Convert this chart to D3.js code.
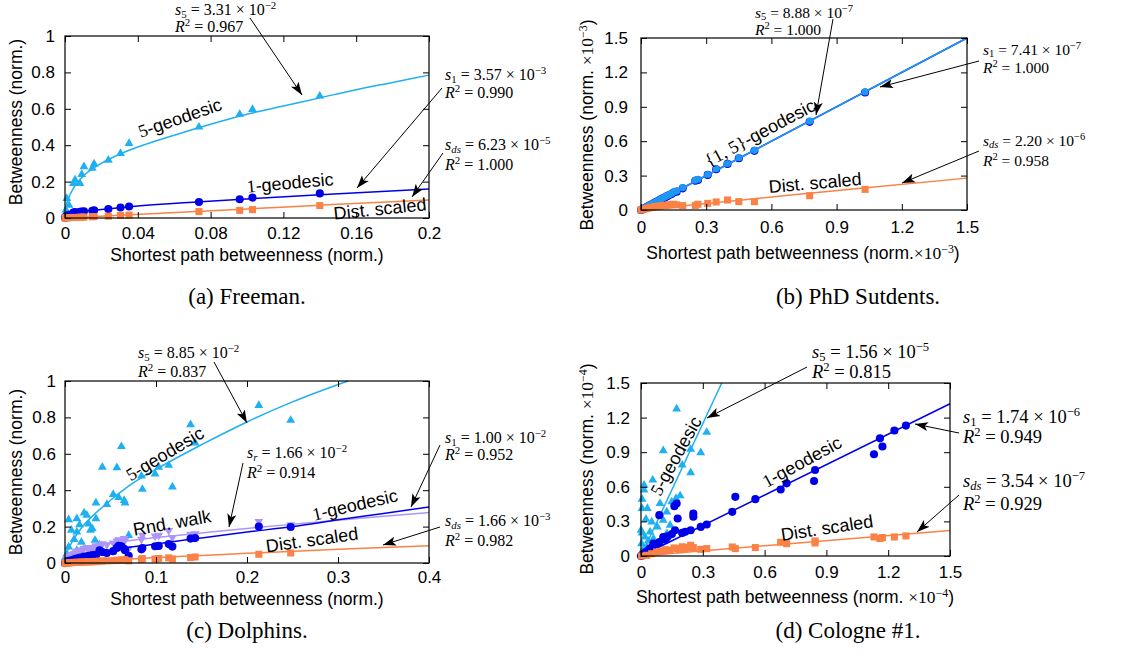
<!DOCTYPE html>
<html><head><meta charset="utf-8">
<script src="https://cdn.jsdelivr.net/npm/d3@7"></script>
<style>body{margin:0;background:#fff}svg{display:block}</style>
</head><body>
<svg id="c" width="1132" height="663"></svg>
<script>
// ================= DATA =================
// (a) Freeman
const freemanX  = [0, 0.0005, 0.001, 0.0022, 0.0046, 0.0055, 0.0082, 0.0092, 0.0104, 0.0150, 0.0160, 0.0238, 0.0305, 0.0352, 0.0736, 0.0960, 0.1030, 0.1400];
const freeman5  = [0.02, 0.044, 0.108, 0.07, 0.19, 0.209, 0.19, 0.24, 0.282, 0.273, 0.297, 0.318, 0.355, 0.41, 0.50, 0.57, 0.597, 0.67];
const freeman1  = [0.002, 0.006, 0.012, 0.018, 0.030, 0.032, 0.034, 0.035, 0.037, 0.040, 0.042, 0.049, 0.058, 0.063, 0.088, 0.103, 0.112, 0.135];
const freemanDS = [0, 0.0005, 0.001, 0.002, 0.003, 0.003, 0.004, 0.005, 0.005, 0.007, 0.008, 0.010, 0.014, 0.016, 0.035, 0.042, 0.046, 0.068];
const freemanFit5X  = [0, 0.0005, 0.002, 0.005, 0.01, 0.02, 0.03, 0.04, 0.06, 0.08, 0.10, 0.12, 0.14, 0.16, 0.18, 0.20];
const freemanFit5Y  = [0, 0.06, 0.11, 0.17, 0.23, 0.30, 0.35, 0.39, 0.455, 0.515, 0.57, 0.615, 0.66, 0.705, 0.745, 0.785];
const freemanFit1X  = [0, 0.001, 0.005, 0.01, 0.02, 0.04, 0.07, 0.10, 0.14, 0.20];
const freemanFit1Y  = [0, 0.012, 0.027, 0.036, 0.047, 0.066, 0.087, 0.105, 0.128, 0.159];
const freemanFitDSX = [0, 0.05, 0.10, 0.15, 0.20];
const freemanFitDSY = [0, 0.025, 0.05, 0.075, 0.099];
const freemanXTicks = [0, 0.04, 0.08, 0.12, 0.16, 0.2];
const freemanXLabels = ["0", "0.04", "0.08", "0.12", "0.16", "0.2"];
const unitYTicks = [0, 0.2, 0.4, 0.6, 0.8, 1];
const unitYLabels = ["0", "0.2", "0.4", "0.6", "0.8", "1"];

// (b) PhD students (units of 1e-3)
const phdX  = [0.000, 0.005, 0.010, 0.020, 0.030, 0.040, 0.050, 0.060, 0.070, 0.080, 0.090, 0.100, 0.110, 0.120, 0.130, 0.140, 0.150, 0.164, 0.192, 0.250, 0.262, 0.307, 0.346, 0.398, 0.450, 0.522, 0.776, 1.031];
const phd1  = [0.000, 0.005, 0.010, 0.019, 0.030, 0.041, 0.050, 0.060, 0.071, 0.080, 0.090, 0.101, 0.110, 0.121, 0.130, 0.140, 0.152, 0.160, 0.189, 0.255, 0.262, 0.306, 0.355, 0.402, 0.451, 0.516, 0.769, 1.025];
const phd5  = [0.002, 0.007, 0.012, 0.022, 0.033, 0.044, 0.053, 0.063, 0.074, 0.083, 0.094, 0.104, 0.114, 0.125, 0.134, 0.144, 0.156, 0.165, 0.195, 0.260, 0.268, 0.310, 0.360, 0.406, 0.456, 0.520, 0.775, 1.030];
const phdDS = [0.000, 0.003, 0.006, 0.010, 0.015, 0.020, 0.024, 0.028, 0.030, 0.033, 0.035, 0.038, 0.040, 0.042, 0.044, 0.046, 0.050, 0.045, 0.038, 0.040, 0.050, 0.058, 0.070, 0.087, 0.073, 0.073, 0.125, 0.180];
const phdFit1X = [0, 1.5], phdFit1Y = [0, 1.5];
const phdFit5X = [0, 1.5], phdFit5Y = [0, 1.5];
const phdFitDSX = [0, 0.5, 1.0, 1.5], phdFitDSY = [0, 0.094, 0.188, 0.278];
const tick15 = [0, 0.3, 0.6, 0.9, 1.2, 1.5];
const tick15Labels = ["0", "0.3", "0.6", "0.9", "1.2", "1.5"];

// (c) Dolphins
const dolphinsX  = [0.248,0.213,0.143,0.138,0.118,0.114,0.103,0.099,0.085,0.084,0.070,0.066,0.065,0.062,0.059,0.057,0.053,0.046,0.041,0.038,0.034,0.034,0.033,0.030,0.028,0.026,0.024,0.021,0.018,0.016,0.013,0.013,0.013,0.010,0.007,0.004,0.004,0.002,0.001,0.0005,0.0];
const dolphins5  = [0.784,0.866,0.660,0.760,0.418,0.537,0.527,0.490,0.405,0.478,0.152,0.330,0.344,0.640,0.360,0.524,0.377,0.322,0.527,0.100,0.330,0.244,0.125,0.189,0.180,0.215,0.262,0.275,0.115,0.210,0.244,0.170,0.070,0.130,0.180,0.238,0.088,0.050,0.015,0.030,0.0];
const dolphins1  = [0.198,0.200,0.137,0.134,0.090,0.104,0.094,0.092,0.082,0.075,0.040,0.070,0.078,0.092,0.095,0.083,0.065,0.055,0.060,0.070,0.045,0.042,0.035,0.044,0.038,0.040,0.035,0.036,0.030,0.028,0.025,0.022,0.020,0.020,0.015,0.012,0.010,0.005,0.003,0.002,0.0];
const dolphinsRW = [0.210,0.228,0.160,0.158,0.140,0.178,0.152,0.148,0.152,0.130,0.080,0.125,0.134,0.120,0.128,0.120,0.110,0.100,0.106,0.095,0.095,0.090,0.075,0.085,0.080,0.080,0.085,0.080,0.070,0.070,0.065,0.060,0.055,0.050,0.045,0.035,0.030,0.020,0.010,0.008,0.0];
const dolphinsDS = [0.055,0.048,0.033,0.030,0.022,0.028,0.025,0.022,0.024,0.020,0.012,0.016,0.018,0.017,0.015,0.014,0.013,0.012,0.011,0.010,0.009,0.008,0.008,0.007,0.007,0.007,0.006,0.006,0.005,0.004,0.004,0.003,0.003,0.003,0.002,0.001,0.001,0.0005,0.0,0.0,0.0];
const dolphinsFit5X  = [0, 0.002, 0.005, 0.01, 0.02, 0.035, 0.05, 0.075, 0.10, 0.15, 0.20, 0.25, 0.311];
const dolphinsFit5Y  = [0, 0.055, 0.09, 0.135, 0.205, 0.28, 0.345, 0.44, 0.515, 0.65, 0.775, 0.885, 1.0];
const dolphinsFit1X  = [0, 0.005, 0.02, 0.05, 0.10, 0.15, 0.20, 0.25, 0.30, 0.35, 0.40];
const dolphinsFit1Y  = [0, 0.02, 0.042, 0.07, 0.105, 0.138, 0.17, 0.2, 0.237, 0.272, 0.308];
const dolphinsFitRWX = [0, 0.002, 0.01, 0.03, 0.05, 0.10, 0.15, 0.20, 0.25, 0.30, 0.35, 0.40];
const dolphinsFitRWY = [0, 0.04, 0.07, 0.095, 0.11, 0.14, 0.165, 0.19, 0.213, 0.235, 0.257, 0.277];
const dolphinsFitDSX = [0, 0.1, 0.2, 0.3, 0.4];
const dolphinsFitDSY = [0, 0.03, 0.053, 0.075, 0.095];
const dolphinsXTicks = [0, 0.1, 0.2, 0.3, 0.4];
const dolphinsXLabels = ["0", "0.1", "0.2", "0.3", "0.4"];

// (d) Cologne #1 (units of 1e-4)
const cologne1X = [1.286,1.230,1.160,1.172,1.131,0.845,0.840,0.707,0.678,0.555,0.458,0.443,0.319,0.290,0.254,0.254,0.241,0.215,0.200,0.178,0.173,0.162,0.089,0.165,0.150,0.130,0.108,0.120,0.090,0.060,0.070,0.050,0.040,0.030,0.020,0.010,0.005,0.0];
const cologne1Y = [1.131,1.088,1.020,0.949,0.882,0.746,0.650,0.630,0.577,0.493,0.513,0.383,0.273,0.252,0.368,0.340,0.223,0.210,0.200,0.325,0.455,0.432,0.354,0.223,0.190,0.170,0.165,0.140,0.120,0.107,0.090,0.070,0.060,0.040,0.030,0.015,0.005,0.0];
const cologne5X = [0.173,0.319,0.290,0.241,0.108,0.200,0.241,0.015,0.057,0.015,0.190,0.170,0.149,0.005,0.005,0.031,0.092,0.125,0.024,0.052,0.108,0.141,0.079,0.044,0.000,0.019,0.060,0.125,0.095,0.003,0.028,0.010,0.070,0.035,0.005,0.0];
const cologne5Y = [1.276,1.073,0.896,0.925,0.914,0.789,0.722,0.615,0.659,0.572,0.522,0.499,0.470,0.493,0.412,0.412,0.455,0.383,0.319,0.296,0.310,0.267,0.252,0.209,0.223,0.165,0.151,0.194,0.136,0.107,0.078,0.050,0.100,0.130,0.200,0.020];
const cologneDSX = [1.286,1.230,1.172,1.160,1.131,0.845,0.845,0.707,0.678,0.555,0.458,0.443,0.319,0.290,0.254,0.241,0.214,0.190,0.178,0.141,0.108,0.076,0.052,0.028,0.003,0.160,0.120,0.090,0.200,0.230];
const cologneDSY = [0.174,0.165,0.160,0.151,0.165,0.130,0.113,0.107,0.119,0.073,0.064,0.078,0.064,0.058,0.073,0.093,0.064,0.055,0.064,0.049,0.044,0.035,0.020,0.006,0.0,0.070,0.055,0.040,0.080,0.075];
const cologneFit5X = [0, 0.392], cologneFit5Y = [0, 1.5];
const cologneFit1X = [0, 1.5], cologneFit1Y = [0, 1.32];
const cologneFitDSX = [0, 1.5], cologneFitDSY = [0, 0.222];

// ================= STYLE =================
const C5 = "#1eb0f0", C1 = "#0000e8", CDS = "#fa8246", CRW = "#ae96f6", C15 = "#1e98f5";
const SANS = "'Liberation Sans', Arial, Helvetica, sans-serif";
const SERIF = "'Liberation Serif', 'Times New Roman', serif";

const svg = d3.select("#c");
const defs = svg.append("defs");
defs.append("marker").attr("id", "ah").attr("viewBox", "-13 -6 14 12")
  .attr("refX", 0).attr("refY", 0).attr("markerWidth", 14).attr("markerHeight", 12)
  .attr("markerUnits", "userSpaceOnUse").attr("orient", "auto")
  .append("path").attr("d", "M0,0 L-13,-4.5 L-10,0 L-13,4.5 Z").attr("fill", "#000");

function richText(parent, x, y, size, parts, opts = {}) {
  const t = parent.append("text").attr("x", x).attr("y", y).attr("font-size", size)
    .attr("font-family", opts.family || SERIF).attr("fill", "#000");
  if (opts.anchor) t.attr("text-anchor", opts.anchor);
  if (opts.transform) t.attr("transform", opts.transform);
  let shift = 0;
  parts.forEach(([s, st, fam]) => {
    let target = 0, fs = size;
    if (st.includes("sub")) { target = 0.16 * size; fs = 0.68 * size; }
    if (st.includes("sup")) { target = -0.36 * size; fs = 0.68 * size; }
    const sp = t.append("tspan").text(s).attr("font-size", fs);
    if (target !== shift) sp.attr("dy", target - shift);
    if (st.includes("i")) sp.attr("font-style", "italic");
    if (fam) sp.attr("font-family", fam);
    shift = target;
  });
  return t;
}

function arrow(g, x1, y1, x2, y2) {
  g.append("line").attr("x1", x1).attr("y1", y1).attr("x2", x2).attr("y2", y2)
    .attr("stroke", "#000").attr("stroke-width", 1).attr("marker-end", "url(#ah)");
}

function annot(g, a) {
  richText(g, a.x, a.y1, a.size, a.l1);
  richText(g, a.x, a.y2, a.size, a.l2);
  arrow(g, a.ax1, a.ay1, a.ax2, a.ay2);
}

const symGen = {
  tri: d3.symbol().type(d3.symbolTriangle).size(34),
  tdown: d3.symbol().type(d3.symbolTriangle).size(34),
  circle: d3.symbol().type(d3.symbolCircle).size(52),
  circleS: d3.symbol().type(d3.symbolCircle).size(40),
  square: d3.symbol().type(d3.symbolSquare).size(50)
};

function drawPanel(p) {
  const x = d3.scaleLinear().domain([0, p.xMax]).range([p.L, p.R]);
  const y = d3.scaleLinear().domain([0, p.yMax]).range([p.B, p.T]);
  const g = svg.append("g");

  // series
  p.series.forEach(s => {
    g.append("g").selectAll("path").data(d3.zip(s.xs, s.ys)).join("path")
      .attr("transform", d => `translate(${x(d[0])},${y(d[1])})` + (s.shape === "tdown" ? " rotate(180)" : ""))
      .attr("d", symGen[s.shape]).attr("fill", s.color);
    g.append("path").datum(d3.zip(s.fx, s.fy))
      .attr("d", d3.line().x(d => x(d[0])).y(d => y(d[1])).curve(d3.curveMonotoneX))
      .attr("fill", "none").attr("stroke", s.color).attr("stroke-width", 1.5);
  });

  // axes with inward ticks on all sides
  const fx = (d, i) => p.xLabels[i], fy = (d, i) => p.yLabels[i];
  const axes = [
    [d3.axisBottom(x).tickValues(p.xTicks).tickFormat(fx).tickPadding(p.xPad), `translate(0,${p.B})`],
    [d3.axisTop(x).tickValues(p.xTicks).tickFormat(() => ""), `translate(0,${p.T})`],
    [d3.axisLeft(y).tickValues(p.yTicks).tickFormat(fy).tickPadding(p.yPad), `translate(${p.L},0)`],
    [d3.axisRight(y).tickValues(p.yTicks).tickFormat(() => ""), `translate(${p.R},0)`]
  ];
  axes.forEach(([a, tr]) => {
    const ag = g.append("g").attr("transform", tr).call(a.tickSizeInner(-6).tickSizeOuter(0));
    ag.select(".domain").remove();
    ag.selectAll("line").attr("stroke", "#000").attr("stroke-width", 1);
    ag.selectAll("text").attr("font-family", SANS).attr("font-size", 17).attr("fill", "#000");
  });
  g.append("rect").attr("x", p.L).attr("y", p.T).attr("width", p.R - p.L).attr("height", p.B - p.T)
    .attr("fill", "none").attr("stroke", "#000").attr("stroke-width", 1.2);

  // axis titles
  richText(g, 0, 0, 17.5, p.yTitle, { family: SANS, anchor: "middle",
    transform: `translate(${p.yTitlePos[0]},${p.yTitlePos[1]}) rotate(-90)` });
  richText(g, p.xTitlePos[0], p.xTitlePos[1], 17.5, p.xTitle, { family: SANS, anchor: "middle" });

  // curve labels
  p.labels.forEach(l => {
    richText(g, 0, 0, 18, l.parts, { family: SANS, anchor: "middle",
      transform: `translate(${l.pos[0]},${l.pos[1]}) rotate(${l.rot})` }).attr("dominant-baseline", "central");
  });

  // annotations
  p.annots.forEach(a => annot(g, a));

  // caption
  g.append("text").attr("x", p.cap[0]).attr("y", p.cap[1]).attr("text-anchor", "middle")
    .attr("font-family", SERIF).attr("font-size", 23).attr("fill", "#000").text(p.caption);
}

const S = (sub, val, exp, subItalic) => [["s", "i"], [sub, subItalic ? "subi" : "sub"], [" = " + val + " × 10", ""], ["−" + exp, "sup"]];
const R2 = v => [["R", "i"], ["2", "sup"], [" = " + v, ""]];

drawPanel({
  L: 65, R: 429, T: 36, B: 218, xMax: 0.2, yMax: 1,
  xTicks: freemanXTicks, xLabels: freemanXLabels, yTicks: unitYTicks, yLabels: unitYLabels, xPad: 9, yPad: 10,
  series: [
    { xs: freemanX, ys: freeman5, shape: "tri", color: C5, fx: freemanFit5X, fy: freemanFit5Y },
    { xs: freemanX, ys: freeman1, shape: "circle", color: C1, fx: freemanFit1X, fy: freemanFit1Y },
    { xs: freemanX, ys: freemanDS, shape: "square", color: CDS, fx: freemanFitDSX, fy: freemanFitDSY }
  ],
  yTitle: [["Betweenness (norm.)", ""]], yTitlePos: [22, 122],
  xTitle: [["Shortest path betweenness (norm.)", ""]], xTitlePos: [247, 261],
  labels: [
    { parts: [["5", "", SERIF], ["-geodesic", ""]], pos: [180, 118], rot: -19 },
    { parts: [["1", "", SERIF], ["-geodesic", ""]], pos: [290, 183], rot: -5 },
    { parts: [["Dist. scaled", ""]], pos: [380, 209], rot: -6 }
  ],
  annots: [
    { x: 175, y1: 15, y2: 32, size: 16, l1: S("5", "3.31", "2"), l2: R2("0.967"), ax1: 250, ay1: 18, ax2: 302, ay2: 95 },
    { x: 445, y1: 80, y2: 98, size: 16, l1: S("1", "3.57", "3"), l2: R2("0.990"), ax1: 442, ay1: 88, ax2: 357, ay2: 188 },
    { x: 445, y1: 150, y2: 170, size: 16, l1: S("ds", "6.23", "5", true), l2: R2("1.000"), ax1: 443, ay1: 153, ax2: 412, ay2: 197 }
  ],
  caption: "(a) Freeman.", cap: [247, 304]
});

drawPanel({
  L: 641, R: 967, T: 38, B: 210, xMax: 1.5, yMax: 1.5,
  xTicks: tick15, xLabels: tick15Labels, yTicks: tick15, yLabels: tick15Labels, xPad: 11, yPad: 13,
  series: [
    { xs: phdX, ys: phd1, shape: "circle", color: C1, fx: phdFit1X, fy: phdFit1Y },
    { xs: phdX, ys: phd5, shape: "circleS", color: C15, fx: phdFit5X, fy: phdFit5Y },
    { xs: phdX, ys: phdDS, shape: "square", color: CDS, fx: phdFitDSX, fy: phdFitDSY }
  ],
  yTitle: [["Betweenness (norm. ", ""], ["×10", "", SERIF], ["−3", "sup", SERIF], [")", ""]], yTitlePos: [593, 125],
  xTitle: [["Shortest path betweenness (norm.", ""], ["×10", "", SERIF], ["−3", "sup", SERIF], [")", ""]], xTitlePos: [803, 259],
  labels: [
    { parts: [["{1, 5}", "", SERIF], ["-geodesic", ""]], pos: [760, 133], rot: -28 },
    { parts: [["Dist. scaled", ""]], pos: [815, 183], rot: -5 }
  ],
  annots: [
    { x: 755, y1: 18, y2: 35, size: 15.5, l1: S("5", "8.88", "7"), l2: R2("1.000"), ax1: 833, ay1: 19, ax2: 816, ay2: 115 },
    { x: 983, y1: 55, y2: 73, size: 15.5, l1: S("1", "7.41", "7"), l2: R2("1.000"), ax1: 979, ay1: 61, ax2: 880, ay2: 87 },
    { x: 983, y1: 146, y2: 166, size: 15.5, l1: S("ds", "2.20", "6", true), l2: R2("0.958"), ax1: 979, ay1: 151, ax2: 902, ay2: 183 }
  ],
  caption: "(b) PhD Sutdents.", cap: [858, 304]
});

drawPanel({
  L: 65, R: 429, T: 381, B: 563, xMax: 0.4, yMax: 1,
  xTicks: dolphinsXTicks, xLabels: dolphinsXLabels, yTicks: unitYTicks, yLabels: unitYLabels, xPad: 8, yPad: 9,
  series: [
    { xs: dolphinsX, ys: dolphins5, shape: "tri", color: C5, fx: dolphinsFit5X, fy: dolphinsFit5Y },
    { xs: dolphinsX, ys: dolphinsRW, shape: "tdown", color: CRW, fx: dolphinsFitRWX, fy: dolphinsFitRWY },
    { xs: dolphinsX, ys: dolphins1, shape: "circle", color: C1, fx: dolphinsFit1X, fy: dolphinsFit1Y },
    { xs: dolphinsX, ys: dolphinsDS, shape: "square", color: CDS, fx: dolphinsFitDSX, fy: dolphinsFitDSY }
  ],
  yTitle: [["Betweenness (norm.)", ""]], yTitlePos: [22, 472],
  xTitle: [["Shortest path betweenness (norm.)", ""]], xTitlePos: [247, 605],
  labels: [
    { parts: [["5", "", SERIF], ["-geodesic", ""]], pos: [165, 454], rot: -31 },
    { parts: [["Rnd. walk", ""]], pos: [172, 523], rot: -10 },
    { parts: [["1", "", SERIF], ["-geodesic", ""]], pos: [355, 505], rot: -13 },
    { parts: [["Dist. scaled", ""]], pos: [312, 540], rot: -8 }
  ],
  annots: [
    { x: 138, y1: 358, y2: 377, size: 16, l1: S("5", "8.85", "2"), l2: R2("0.837"), ax1: 214, ay1: 362, ax2: 247, ay2: 423 },
    { x: 247, y1: 458, y2: 478, size: 16, l1: S("r", "1.66", "2", true), l2: R2("0.914"), ax1: 243, ay1: 463, ax2: 229, ay2: 527 },
    { x: 445, y1: 443, y2: 460, size: 16, l1: S("1", "1.00", "2"), l2: R2("0.952"), ax1: 440, ay1: 445, ax2: 411, ay2: 507 },
    { x: 445, y1: 526, y2: 546, size: 16, l1: S("ds", "1.66", "3", true), l2: R2("0.982"), ax1: 440, ay1: 527, ax2: 383, ay2: 545 }
  ],
  caption: "(c) Dolphins.", cap: [247, 638]
});

drawPanel({
  L: 641, R: 950, T: 383, B: 556, xMax: 1.5, yMax: 1.5,
  xTicks: tick15, xLabels: tick15Labels, yTicks: tick15, yLabels: tick15Labels, xPad: 10, yPad: 11,
  series: [
    { xs: cologne5X, ys: cologne5Y, shape: "tri", color: C5, fx: cologneFit5X, fy: cologneFit5Y },
    { xs: cologne1X, ys: cologne1Y, shape: "circle", color: C1, fx: cologneFit1X, fy: cologneFit1Y },
    { xs: cologneDSX, ys: cologneDSY, shape: "square", color: CDS, fx: cologneFitDSX, fy: cologneFitDSY }
  ],
  yTitle: [["Betweenness (norm. ", ""], ["×10", "", SERIF], ["−4", "sup", SERIF], [")", ""]], yTitlePos: [593, 469],
  xTitle: [["Shortest path betweenness (norm. ", ""], ["×10", "", SERIF], ["−4", "sup", SERIF], [")", ""]], xTitlePos: [795, 603],
  labels: [
    { parts: [["5", "", SERIF], ["-geodesic", ""]], pos: [676, 456], rot: -61 },
    { parts: [["1", "", SERIF], ["-geodesic", ""]], pos: [802, 462], rot: -28.6 },
    { parts: [["Dist. scaled", ""]], pos: [827, 528], rot: -8.7 }
  ],
  annots: [
    { x: 812, y1: 358, y2: 378, size: 18.5, l1: S("5", "1.56", "5"), l2: R2("0.815"), ax1: 807, ay1: 367, ax2: 707, ay2: 418 },
    { x: 963, y1: 423, y2: 443, size: 18.5, l1: S("1", "1.74", "6"), l2: R2("0.949"), ax1: 959, ay1: 433, ax2: 915, ay2: 424 },
    { x: 963, y1: 487, y2: 510, size: 18.5, l1: S("ds", "3.54", "7", true), l2: R2("0.929"), ax1: 959, ay1: 495, ax2: 917, ay2: 532 }
  ],
  caption: "(d) Cologne #1.", cap: [848, 638]
});
</script>
</body></html>
